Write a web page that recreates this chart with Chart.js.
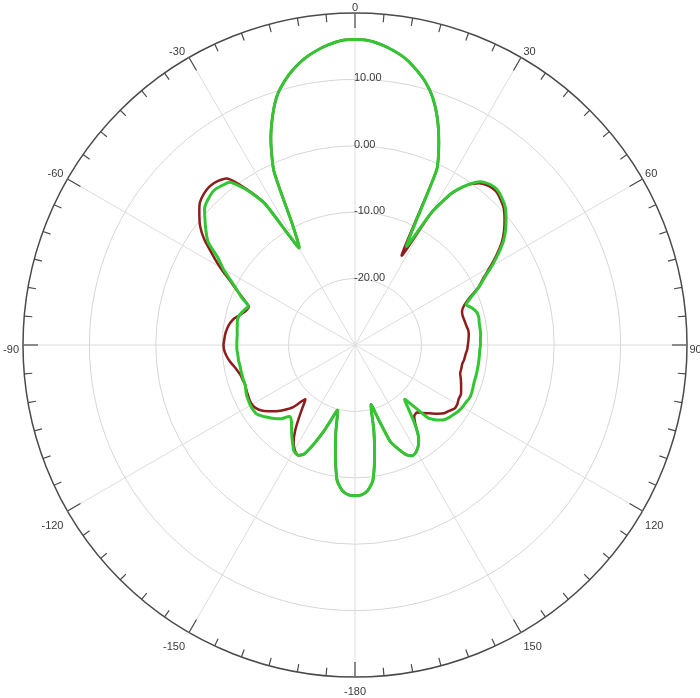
<!DOCTYPE html>
<html>
<head>
<meta charset="utf-8">
<title>Radiation pattern</title>
<script src="https://cdn.jsdelivr.net/npm/chart.js@4.4.1/dist/chart.umd.min.js"></script>
<style>
    html, body { margin: 0; padding: 0; background: #fff; }
    #wrap { width: 700px; height: 698px; }
</style>
</head>
<body>
<div id="wrap"><canvas id="patternChart" width="700" height="698"></canvas></div>
<script>
// Measurement step in degrees, 0 at the top, clockwise
const STEP = 2.5;
const angles = Array.from({ length: 144 }, (_, i) => i * STEP);

// Labels shown every 30 degrees round the rim
const angleTickLabels = [0, 30, 60, 90, 120, 150, -180, -150, -120, -90, -60, -30];

// Gain (dB), 0 .. 357.5 deg
const greenGain = [
    16.0, 15.9, 15.4, 14.7, 13.8, 12.5, 11.0, 9.0, 6.3, 3.0,
    -0.9, -13.2, -7.0, -2.9, -0.6, 1.0, 1.6, 1.7, 1.3, 0.7,
    -0.3, -1.4, -2.7, -4.4, -6.2, -8.0, -9.4, -11.0, -12.2, -11.5,
    -11.0, -10.9, -11.0, -11.0, -11.0, -11.1, -11.1, -11.2, -11.2, -11.2,
    -11.2, -11.2, -11.2, -11.2, -11.1, -11.0, -11.0, -11.2, -11.3, -11.5,
    -11.8, -12.1, -12.5, -13.3, -14.5, -18.9, -17.5, -15.4, -13.4, -12.2,
    -11.5, -11.2, -11.8, -13.1, -14.6, -18.3, -20.7, -16.9, -13.0, -9.4,
    -8.0, -7.4, -7.3,
    -7.4, -8.0, -9.4, -13.0, -16.7, -19.8, -18.3, -16.1, -13.9, -11.9,
    -11.3, -11.6, -12.5, -13.4, -14.3, -15.1, -15.4, -14.3, -13.6, -13.0,
    -12.4, -11.9, -11.8, -11.8, -11.9, -12.0, -12.2, -12.4, -12.4, -12.4,
    -12.4, -12.4, -12.3, -12.3, -12.2, -12.2, -12.2, -12.2, -12.1, -12.0,
    -11.9, -12.1, -12.5, -12.9, -11.6, -10.4, -8.9, -7.1, -5.5, -3.0,
    -1.7, -0.5, 0.7, 1.2, 1.5, 1.3, 0.9, -1.4, -4.8, -13.1,
    -9.7, -1.1, 3.1, 6.4, 9.2, 11.1, 12.6, 13.8, 14.7, 15.4,
    15.9
];

const redGain = [
    16.0, 15.9, 15.4, 14.7, 13.8, 12.5, 11.0, 9.0, 6.3, 3.0,
    -0.9, -14.8, -7.0, -2.9, -0.6, 0.7, 1.3, 1.4, 1.0, 0.4,
    -0.6, -1.7, -3.0, -4.7, -6.5, -8.2, -9.5, -11.3, -12.5, -13.1,
    -13.2, -13.1, -13.0, -12.8, -12.8, -12.9, -13.0, -13.1, -13.3, -13.4,
    -13.6, -13.6, -13.6, -13.3, -13.0, -12.7, -12.4, -12.4, -12.2, -12.2,
    -12.7, -13.1, -13.9, -14.8, -15.5, -16.2, -16.1, -15.1, -13.4, -12.2,
    -11.5, -11.2, -11.8, -13.1, -14.6, -18.3, -20.7, -16.9, -13.0, -9.4,
    -8.0, -7.4, -7.3,
    -7.4, -8.0, -9.4, -13.0, -16.7, -19.8, -18.3, -16.1, -13.9, -11.9,
    -11.3, -11.8, -12.8, -14.3, -16.1, -17.7, -18.9, -16.7, -15.5, -14.5,
    -13.6, -12.8, -12.3, -12.1, -12.1, -12.2, -12.3, -12.4, -12.3, -12.2,
    -11.9, -11.5, -11.0, -10.6, -10.3, -10.2, -10.3, -10.4, -10.6, -10.9,
    -11.4, -12.2, -12.8, -13.0, -11.8, -10.3, -8.6, -6.5, -4.5, -2.3,
    -0.6, 0.6, 1.7, 2.2, 2.4, 2.2, 1.6, -1.2, -4.8, -13.1,
    -9.7, -1.1, 3.1, 6.4, 9.2, 11.1, 12.6, 13.8, 14.7, 15.4,
    15.9
];

const LABEL_FONT = '11px "Liberation Sans", Arial, sans-serif';
const LABEL_COLOR = '#3a3a3a';

// Short ticks on the rim every 5 deg, long ones every 30 deg
const rimTicks = {
    id: 'rimTicks',
    beforeDatasetsDraw(chart) {
        const scale = chart.scales.r;
        const ctx = chart.ctx;
        const R = scale.drawingArea;
        ctx.save();
        ctx.strokeStyle = '#4a4a4a';
        ctx.lineWidth = 1.2;
        for (let i = 0; i < angles.length; i += 2) {
            const len = i % 12 === 0 ? 15 : 8;
            const a = scale.getPointPosition(i, R);
            const b = scale.getPointPosition(i, R - len);
            ctx.beginPath();
            ctx.moveTo(a.x, a.y);
            ctx.lineTo(b.x, b.y);
            ctx.stroke();
        }
        ctx.restore();
    }
};

// Angle labels just outside the rim, anchored like the original plot
const rimLabels = {
    id: 'rimLabels',
    afterDraw(chart) {
        const scale = chart.scales.r;
        const ctx = chart.ctx;
        const R = scale.drawingArea;
        ctx.save();
        ctx.font = LABEL_FONT;
        ctx.fillStyle = LABEL_COLOR;
        ctx.textBaseline = 'alphabetic';
        angleTickLabels.forEach((text, k) => {
            const i = k * 12;
            const deg = angles[i];
            const p = scale.getPointPosition(i, R);
            let x = p.x, y = p.y;
            if (deg === 0 || deg === 180) {
                ctx.textAlign = 'center';
            } else if (deg < 180) {
                ctx.textAlign = 'left';
                x += 2.5;
            } else {
                ctx.textAlign = 'right';
                x -= 4;
            }
            if (deg === 90 || deg === 270) y += 7.5;
            else if (deg < 90 || deg > 270) y -= 2;
            else y += 17.5;
            ctx.fillText(String(text), x, y);
        });
        ctx.restore();
    }
};

// Ring values written just right of the 0 deg spoke
const ringLabels = {
    id: 'ringLabels',
    afterDatasetsDraw(chart) {
        const scale = chart.scales.r;
        const ctx = chart.ctx;
        ctx.save();
        ctx.font = LABEL_FONT;
        ctx.fillStyle = LABEL_COLOR;
        ctx.textAlign = 'left';
        ctx.textBaseline = 'middle';
        scale.ticks.forEach(t => {
            if (t.value <= scale.min || t.value >= scale.max) return;
            const d = scale.getDistanceFromCenterForValue(t.value);
            ctx.fillText(t.value.toFixed(2), scale.xCenter - 1, scale.yCenter - d - 1);
        });
        ctx.restore();
    }
};

const ctx = document.getElementById('patternChart');

new Chart(ctx, {
    type: 'radar',
    data: {
        labels: angles,
        datasets: [
            {
                label: 'Green',
                data: greenGain,
                borderColor: '#33c633',
                borderWidth: 3,
                pointRadius: 0,
                fill: false,
                tension: 0.2,
                borderJoinStyle: 'round'
            },
            {
                label: 'Red',
                data: redGain,
                borderColor: '#8e1c1c',
                borderWidth: 2.5,
                pointRadius: 0,
                fill: false,
                tension: 0.2,
                borderJoinStyle: 'round'
            }
        ]
    },
    options: {
        responsive: false,
        animation: false,
        layout: {
            padding: { left: 23, right: 13, top: 13, bottom: 21 }
        },
        plugins: {
            legend: { display: false },
            tooltip: { enabled: false }
        },
        scales: {
            r: {
                min: -30,
                max: 20,
                ticks: {
                    stepSize: 10,
                    display: false
                },
                grid: {
                    circular: true,
                    color: c => (c.tick && c.tick.value === 20) ? '#4a4a4a' : '#d6d6d6',
                    lineWidth: c => (c.tick && c.tick.value === 20) ? 1.5 : 1
                },
                angleLines: {
                    color: '#dcdcdc',
                    lineWidth: c => c.index % 12 === 0 ? 1 : 0
                },
                pointLabels: {
                    display: false
                }
            }
        }
    },
    plugins: [rimTicks, ringLabels, rimLabels]
});
</script>
</body>
</html>
